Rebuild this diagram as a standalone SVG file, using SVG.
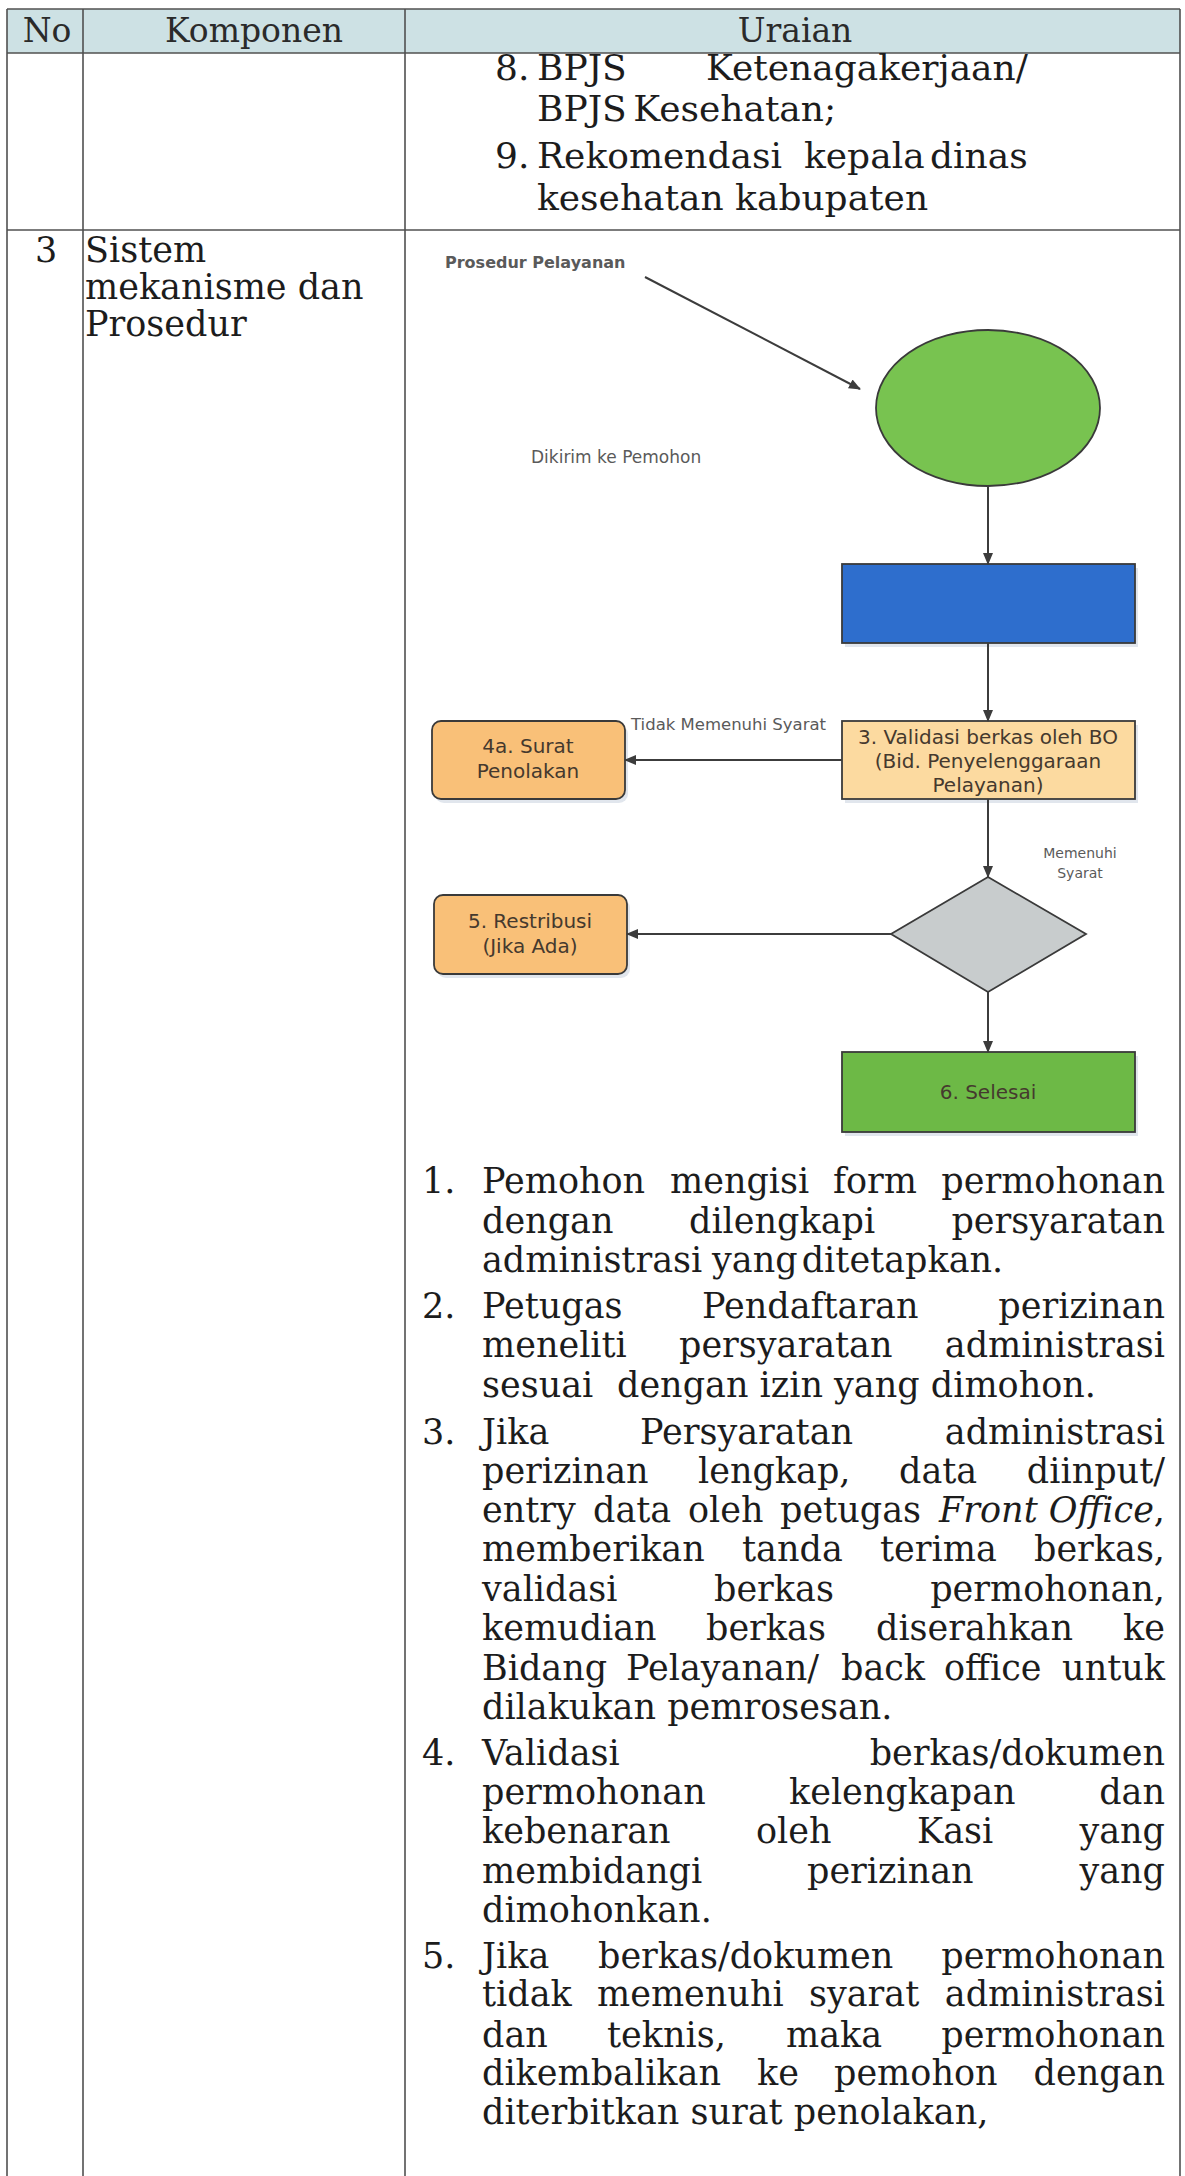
<svg xmlns="http://www.w3.org/2000/svg" width="1185" height="2176" viewBox="0 0 1185 2176">
  <style>
    .t { font-family: "DejaVu Serif", "Liberation Serif", serif; font-size: 35px; fill: #1c1c1c; }
    .t2 { font-family: "DejaVu Serif", "Liberation Serif", serif; font-size: 36px; fill: #1c1c1c; }
    .h { font-family: "DejaVu Serif", "Liberation Serif", serif; font-size: 33px; fill: #2a2a2a; text-anchor: middle; }
    .e { text-anchor: end; }
    .it { font-style: italic; }
    .n { font-family: "DejaVu Sans", Verdana, sans-serif; font-size: 20px; fill: #45392e; text-anchor: middle; }
    .lbl { font-family: "DejaVu Sans", Verdana, sans-serif; fill: #5a5a5a; }
    .grid { stroke: #505050; stroke-width: 1.6; fill: none; }
    .box { stroke: #3a3a3a; stroke-width: 1.8; }
    .conn { stroke: #3c3c3c; stroke-width: 2; fill: none; marker-end: url(#ah); }
    .sh { fill: #c3cddb; opacity: 0.5; }
  </style>
  <defs>
    <marker id="ah" markerUnits="userSpaceOnUse" markerWidth="12" markerHeight="10" refX="11" refY="5" orient="auto">
      <path d="M0,0 L12,5 L0,10 z" fill="#3c3c3c"/>
    </marker>
  </defs>

  <rect width="1185" height="2176" fill="#ffffff"/>

  <!-- table frame -->
  <g id="table">
    <rect x="7" y="9" width="1173" height="44" fill="#cde1e4"/>
    <line class="grid" x1="7" y1="9" x2="1180" y2="9" stroke-width="2.2"/>
    <line class="grid" x1="7" y1="53" x2="1180" y2="53" stroke-width="2.2"/>
    <line class="grid" x1="7" y1="230" x2="1180" y2="230" stroke-width="2.2"/>
    <line class="grid" x1="7" y1="9" x2="7" y2="2176"/>
    <line class="grid" x1="83" y1="9" x2="83" y2="2176"/>
    <line class="grid" x1="405" y1="9" x2="405" y2="2176"/>
    <line class="grid" x1="1180" y1="9" x2="1180" y2="2176"/>
    <text class="h" x="47" y="42">No</text>
    <text class="h" x="254" y="42">Komponen</text>
    <text class="h" x="795" y="42">Uraian</text>
  </g>

  <!-- row: requirements 8-9 -->
  <g id="row-persyaratan">
    <text class="t2" x="495" y="80">8.</text>
    <text class="t2" x="537" y="80">BPJS</text>
    <text class="t2" x="706" y="80">Ketenagakerjaan/</text>
    <text class="t2" x="537" y="121" word-spacing="-5">BPJS Kesehatan;</text>
    <text class="t2" x="495" y="168">9.</text>
    <text class="t2" x="537" y="168">Rekomendasi</text>
    <text class="t2" x="804" y="168">kepala</text>
    <text class="t2" x="930" y="168">dinas</text>
    <text class="t2" x="537" y="210">kesehatan kabupaten</text>
  </g>

  <!-- row 3 labels -->
  <g id="row-3">
    <text class="t" x="35" y="262">3</text>
    <text class="t" x="85" y="262">Sistem</text>
    <text class="t" x="85" y="299">mekanisme dan</text>
    <text class="t" x="85" y="336">Prosedur</text>
  </g>

  <!-- flowchart labels -->
  <g id="label-prosedur">
    <text class="lbl" x="445" y="268" font-size="16" font-weight="bold" fill="#333">Prosedur Pelayanan</text>
  </g>
  <g id="label-dikirim">
    <text class="lbl" x="531" y="463" font-size="17" fill="#666">Dikirim ke Pemohon</text>
  </g>

  <!-- flowchart nodes -->
  <g id="node-start">
    <ellipse cx="988" cy="408" rx="112" ry="78" fill="#78c350" class="box"/>
  </g>
  <g id="node-step2">
    <rect class="sh" x="845" y="568" width="293" height="79"/>
    <rect class="box" x="842" y="564" width="293" height="79" fill="#2e6ecd"/>
  </g>
  <g id="node-validasi">
    <rect class="sh" x="845" y="725" width="293" height="78"/>
    <rect class="box" x="842" y="721" width="293" height="78" fill="#fcdaa0"/>
    <text class="n" x="988" y="744">3. Validasi berkas oleh BO</text>
    <text class="n" x="988" y="768">(Bid. Penyelenggaraan</text>
    <text class="n" x="988" y="792">Pelayanan)</text>
  </g>
  <g id="node-penolakan">
    <rect class="sh" x="435" y="725" width="193" height="78" rx="9"/>
    <rect class="box" x="432" y="721" width="193" height="78" rx="9" fill="#f9c078"/>
    <text class="n" x="528" y="753">4a. Surat</text>
    <text class="n" x="528" y="778">Penolakan</text>
  </g>
  <g id="node-decision">
    <polygon class="box" points="988,877 1086,934 988,992 891,934" fill="#c8cccd"/>
  </g>
  <g id="node-restribusi">
    <rect class="sh" x="437" y="899" width="193" height="79" rx="9"/>
    <rect class="box" x="434" y="895" width="193" height="79" rx="9" fill="#f9c078"/>
    <text class="n" x="530" y="928">5. Restribusi</text>
    <text class="n" x="530" y="953">(Jika Ada)</text>
  </g>
  <g id="node-selesai">
    <rect class="sh" x="845" y="1056" width="293" height="80"/>
    <rect class="box" x="842" y="1052" width="293" height="80" fill="#6db946"/>
    <text class="n" x="988" y="1099">6. Selesai</text>
  </g>

  <!-- connectors -->
  <g id="connectors">
    <line class="conn" x1="645" y1="277" x2="860" y2="389"/>
    <line class="conn" x1="988" y1="486" x2="988" y2="564"/>
    <line class="conn" x1="988" y1="643" x2="988" y2="721"/>
    <line class="conn" x1="842" y1="760" x2="625" y2="760"/>
    <line class="conn" x1="988" y1="799" x2="988" y2="877"/>
    <line class="conn" x1="891" y1="934" x2="627" y2="934"/>
    <line class="conn" x1="988" y1="992" x2="988" y2="1052"/>
    <text class="lbl" x="631" y="730" font-size="16.5">Tidak Memenuhi Syarat</text>
    <text class="lbl" x="1080" y="858" font-size="14" fill="#777" text-anchor="middle">Memenuhi</text>
    <text class="lbl" x="1080" y="878" font-size="14" fill="#777" text-anchor="middle">Syarat</text>
  </g>

  <!-- procedure description (justified lines set word by word) -->
  <g id="uraian-prosedur">
    <text class="t" x="422" y="1193">1.</text>
    <text class="t" x="482" y="1193">Pemohon</text>
    <text class="t" x="670" y="1193">mengisi</text>
    <text class="t" x="833" y="1193">form</text>
    <text class="t e" x="1165" y="1193">permohonan</text>

    <text class="t" x="482" y="1233">dengan</text>
    <text class="t" x="689" y="1233">dilengkapi</text>
    <text class="t e" x="1165" y="1233">persyaratan</text>

    <text class="t" x="482" y="1272">administrasi</text>
    <text class="t" x="712" y="1272" word-spacing="-7">yang ditetapkan.</text>

    <text class="t" x="422" y="1318">2.</text>
    <text class="t" x="482" y="1318">Petugas</text>
    <text class="t" x="702" y="1318">Pendaftaran</text>
    <text class="t e" x="1165" y="1318">perizinan</text>

    <text class="t" x="482" y="1357">meneliti</text>
    <text class="t" x="679" y="1357">persyaratan</text>
    <text class="t e" x="1165" y="1357">administrasi</text>

    <text class="t" x="482" y="1397">sesuai</text>
    <text class="t" x="617" y="1397">dengan izin yang dimohon.</text>

    <text class="t" x="422" y="1444">3.</text>
    <text class="t" x="482" y="1444">Jika</text>
    <text class="t" x="640" y="1444">Persyaratan</text>
    <text class="t e" x="1165" y="1444">administrasi</text>

    <text class="t" x="482" y="1483">perizinan</text>
    <text class="t" x="698" y="1483">lengkap,</text>
    <text class="t" x="899" y="1483">data</text>
    <text class="t e" x="1165" y="1483">diinput/</text>

    <text class="t" x="482" y="1522">entry</text>
    <text class="t" x="593" y="1522">data</text>
    <text class="t" x="688" y="1522">oleh</text>
    <text class="t" x="780" y="1522">petugas</text>
    <text class="t e" x="1165" y="1522"><tspan class="it">Front Office</tspan>,</text>

    <text class="t" x="482" y="1561">memberikan</text>
    <text class="t" x="742" y="1561">tanda</text>
    <text class="t" x="880" y="1561">terima</text>
    <text class="t e" x="1165" y="1561">berkas,</text>

    <text class="t" x="482" y="1601">validasi</text>
    <text class="t" x="714" y="1601">berkas</text>
    <text class="t e" x="1165" y="1601">permohonan,</text>

    <text class="t" x="482" y="1640">kemudian</text>
    <text class="t" x="706" y="1640">berkas</text>
    <text class="t" x="876" y="1640">diserahkan</text>
    <text class="t e" x="1165" y="1640">ke</text>

    <text class="t" x="482" y="1680">Bidang</text>
    <text class="t" x="626" y="1680">Pelayanan/</text>
    <text class="t" x="841" y="1680">back</text>
    <text class="t" x="944" y="1680">office</text>
    <text class="t e" x="1165" y="1680">untuk</text>

    <text class="t" x="482" y="1719">dilakukan pemrosesan.</text>

    <text class="t" x="422" y="1765">4.</text>
    <text class="t" x="482" y="1765">Validasi</text>
    <text class="t e" x="1165" y="1765">berkas/dokumen</text>

    <text class="t" x="482" y="1804">permohonan</text>
    <text class="t" x="789" y="1804">kelengkapan</text>
    <text class="t e" x="1165" y="1804">dan</text>

    <text class="t" x="482" y="1843">kebenaran</text>
    <text class="t" x="756" y="1843">oleh</text>
    <text class="t" x="917" y="1843">Kasi</text>
    <text class="t e" x="1165" y="1843">yang</text>

    <text class="t" x="482" y="1883">membidangi</text>
    <text class="t" x="807" y="1883">perizinan</text>
    <text class="t e" x="1165" y="1883">yang</text>

    <text class="t" x="482" y="1922">dimohonkan.</text>

    <text class="t" x="422" y="1968">5.</text>
    <text class="t" x="482" y="1968">Jika</text>
    <text class="t" x="598" y="1968">berkas/dokumen</text>
    <text class="t e" x="1165" y="1968">permohonan</text>

    <text class="t" x="482" y="2006">tidak</text>
    <text class="t" x="597" y="2006">memenuhi</text>
    <text class="t" x="809" y="2006">syarat</text>
    <text class="t e" x="1165" y="2006">administrasi</text>

    <text class="t" x="482" y="2047">dan</text>
    <text class="t" x="607" y="2047">teknis,</text>
    <text class="t" x="786" y="2047">maka</text>
    <text class="t e" x="1165" y="2047">permohonan</text>

    <text class="t" x="482" y="2085">dikembalikan</text>
    <text class="t" x="757" y="2085">ke</text>
    <text class="t" x="834" y="2085">pemohon</text>
    <text class="t e" x="1165" y="2085">dengan</text>

    <text class="t" x="482" y="2124">diterbitkan surat penolakan,</text>
  </g>
</svg>
